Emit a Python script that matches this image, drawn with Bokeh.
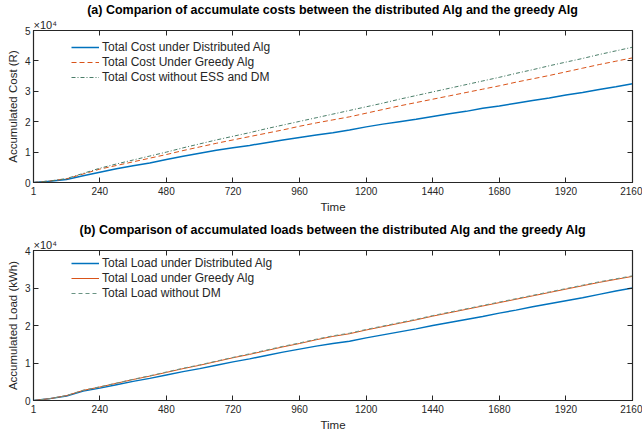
from bokeh.plotting import figure
from bokeh.models import Range1d, FixedTicker, CustomJSTickFormatter, LinearAxis, Title
from bokeh.layouts import column
from bokeh.embed import file_html
from bokeh.resources import INLINE

# ---------------- data ----------------
time = [1, 60, 120, 180, 240, 300, 360, 420, 480, 540, 600, 660, 720, 780, 840, 900,
        960, 1020, 1080, 1140, 1200, 1260, 1320, 1380, 1440, 1500, 1560, 1620, 1680,
        1740, 1800, 1860, 1920, 1980, 2040, 2100, 2160]

cost_distributed = [0, 400, 1000, 2200, 3400, 4500, 5500, 6400, 7600, 8600, 9600, 10600,
                    11400, 12200, 13100, 14000, 14800, 15600, 16400, 17300, 18300, 19200,
                    20000, 20800, 21700, 22600, 23400, 24400, 25200, 26100, 27000, 27800,
                    28800, 29600, 30600, 31500, 32500]
cost_greedy = [0, 500, 1200, 2800, 4400, 5600, 6800, 8000, 9200, 10500, 11700, 12900,
               14000, 15100, 16200, 17300, 18500, 19600, 20600, 21600, 22800, 24000,
               25200, 26300, 27400, 28500, 29600, 30700, 31800, 33000, 34100, 35200,
               36400, 37600, 38800, 39900, 41000]
cost_without = [0, 500, 1300, 3000, 4700, 6100, 7400, 8700, 10000, 11400, 12700, 14000,
                15200, 16400, 17700, 18900, 20100, 21300, 22500, 23700, 24900, 26100,
                27400, 28600, 29800, 31000, 32200, 33400, 34600, 35900, 37100, 38400,
                39600, 40800, 42100, 43300, 44500]

load_distributed = [0, 500, 1200, 2500, 3300, 4200, 5100, 5900, 6800, 7700, 8500, 9400,
                    10300, 11100, 12000, 12900, 13700, 14500, 15200, 15800, 16700, 17500,
                    18300, 19100, 20000, 20800, 21600, 22400, 23300, 24100, 25000, 25800,
                    26600, 27400, 28300, 29200, 30000]
load_greedy = [0, 500, 1300, 2700, 3600, 4600, 5600, 6500, 7500, 8500, 9400, 10400,
               11400, 12300, 13300, 14300, 15200, 16200, 17100, 17800, 18800, 19700,
               20600, 21500, 22500, 23400, 24300, 25200, 26100, 27000, 27900, 28800,
               29700, 30600, 31500, 32300, 33100]
load_without = [0, 500, 1300, 2750, 3650, 4650, 5650, 6600, 7600, 8600, 9500, 10500,
                11500, 12450, 13450, 14450, 15350, 16350, 17250, 17950, 18950, 19850,
                20750, 21650, 22650, 23550, 24450, 25350, 26250, 27150, 28050, 28950,
                29850, 30750, 31650, 32450, 33250]

x_ticks = [1, 240, 480, 720, 960, 1200, 1440, 1680, 1920, 2160]
cost_ticks = [0, 10000, 20000, 30000, 40000, 50000]
load_ticks = [0, 10000, 20000, 30000, 40000]

titles = ["(a) Comparion of accumulate costs between the distributed Alg and the greedy Alg",
          "(b) Comparison of accumulated loads between the distributed Alg and the greedy Alg"]
multiplier = "×10⁴"

BLUE = "#0072BD"
ORANGE = "#D95319"
GREEN = "#4A7D68"
GRAY = "#6A9484"
FONT = "Liberation Sans"
TXT = "#262626"

empty_fmt = "return '';"


def make_fig(title, ylabel, yticks, height, btop, bbottom):
    p = figure(width=642, height=height, output_backend="svg", toolbar_location=None,
               x_range=Range1d(1, 2160), y_range=Range1d(yticks[0], yticks[-1]),
               min_border_left=33, min_border_right=10, min_border_top=btop,
               min_border_bottom=bbottom, title=title)
    p.title.align = "center"
    p.title.text_font = FONT
    p.title.text_font_size = "12.5px"
    p.title.text_font_style = "bold"
    p.title.text_color = "black"
    p.title.standoff = 0
    p.title.offset = 0
    p.xgrid.visible = False
    p.ygrid.visible = False
    p.outline_line_color = TXT
    p.outline_line_width = 1.2
    fmt = CustomJSTickFormatter(code="return (tick/1e4).toString();")
    for ax in p.xaxis + p.yaxis:
        ax.major_tick_in = 5
        ax.major_tick_out = 0
        ax.minor_tick_line_color = None
        ax.axis_line_color = TXT
        ax.major_tick_line_color = TXT
        ax.major_label_text_font = FONT
        ax.major_label_text_font_size = "10px"
        ax.major_label_text_color = TXT
        ax.axis_label_text_font = FONT
        ax.axis_label_text_font_size = "11.5px"
        ax.axis_label_text_font_style = "normal"
        ax.axis_label_text_color = TXT
    p.xaxis.ticker = FixedTicker(ticks=x_ticks)
    p.xaxis.axis_label = "Time"
    p.xaxis.major_label_standoff = 4
    p.xaxis.axis_label_standoff = 3
    p.yaxis.ticker = FixedTicker(ticks=yticks)
    p.yaxis.formatter = fmt
    p.yaxis.axis_label = ylabel
    p.yaxis.major_label_standoff = 3
    p.yaxis.axis_label_standoff = 3
    # box ticks on top and right
    top = LinearAxis(ticker=FixedTicker(ticks=x_ticks), major_tick_in=5, major_tick_out=0,
                     minor_tick_line_color=None, formatter=CustomJSTickFormatter(code=empty_fmt),
                     major_label_standoff=0, axis_line_color=TXT, major_tick_line_color=TXT)
    right = LinearAxis(ticker=FixedTicker(ticks=yticks), major_tick_in=5, major_tick_out=0,
                       minor_tick_line_color=None, formatter=CustomJSTickFormatter(code=empty_fmt),
                       major_label_standoff=0, axis_line_color=TXT, major_tick_line_color=TXT)
    p.add_layout(top, "above")
    p.add_layout(right, "right")
    p.add_layout(Title(text=multiplier, align="left", text_font=FONT, text_font_size="11px",
                       text_font_style="normal", text_color=TXT, standoff=0, offset=0), "above")
    return p


p1 = make_fig(titles[0], "Accumulated Cost (R)", cost_ticks, 220, 22, 38)
p1.line(time, cost_distributed, color=BLUE, line_width=1.5,
        legend_label="Total Cost under Distributed Alg")
p1.line(time, cost_greedy, color=ORANGE, line_width=1, line_dash="5 3",
        legend_label="Total Cost Under Greedy Alg")
p1.line(time, cost_without, color=GREEN, line_width=1, line_dash="4 2 1 2",
        legend_label="Total Cost without ESS and DM")

p2 = make_fig(titles[1], "Accumulated Load (kWh)", load_ticks, 213, 21, 33)
p2.line(time, load_distributed, color=BLUE, line_width=1.5,
        legend_label="Total Load under Distributed Alg")
p2.line(time, load_greedy, color=ORANGE, line_width=1,
        legend_label="Total Load under Greedy Alg")
p2.line(time, load_without, color=GRAY, line_width=1, line_dash="4 3",
        legend_label="Total Load without DM")

for p, vy in ((p1, 98), (p2, 100)):
    lg = p.legend[0]
    lg.location = (38, vy)
    lg.margin = 0
    lg.padding = 0
    lg.border_line_color = None
    lg.background_fill_alpha = 0
    lg.label_text_font = FONT
    lg.label_text_font_size = "12px"
    lg.label_text_color = TXT
    lg.glyph_width = 28
    lg.glyph_height = 14
    lg.label_height = 14
    lg.spacing = 1
    lg.label_standoff = 3

layout = column(p1, p2, spacing=0)
open("out.html", "w").write(file_html(layout, INLINE))
